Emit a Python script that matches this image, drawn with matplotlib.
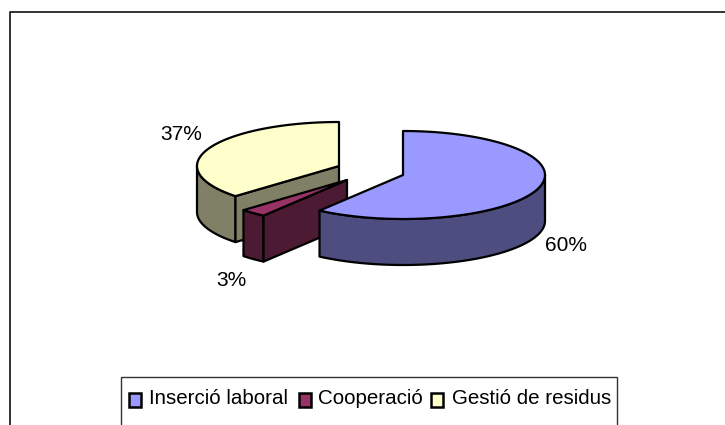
import numpy as np
import matplotlib
matplotlib.use('Agg')
import matplotlib.pyplot as plt
from matplotlib.patches import Polygon, Rectangle
from matplotlib.colors import to_rgb

categories = ['Inserció laboral', 'Cooperació', 'Gestió de residus']
values = [60, 3, 37]
pct_labels = ['60%', '3%', '37%']
colors = ['#9999FF', '#993366', '#FFFFCC']

# apex of each exploded slice, in pixels
apex = [(403, 175), (347, 180), (339, 166)]
label_pos = [(566, 245), (231, 280), (181, 135)]
legend_square_x = [129, 299, 431]
legend_text_x = [149, 318, 452]
RX, RY, DEPTH = 142, 44, 46
LW = 1.6

plt.rcParams['font.family'] = ['Liberation Sans']

fig = plt.figure(figsize=(7.25, 4.25), dpi=100)
ax = fig.add_axes([0, 0, 1, 1])
ax.set_xlim(0, 725)
ax.set_ylim(425, 0)
ax.axis('off')

# chart border, only left and top are inside the picture
ax.plot([10, 10, 725], [425, 12, 12], color='#222222', lw=1.3, zorder=1)


def rim(cx, cy, a0, a1):
    t = np.radians(np.linspace(a0, a1, 120))
    return cx + RX * np.sin(t), cy - RY * np.cos(t)


def draw_slice(cx, cy, a0, a1, color, z):
    side = tuple(c * 0.5 for c in to_rgb(color))
    kw = dict(facecolor=side, edgecolor='black', lw=LW, joinstyle='round', zorder=z)
    # outer wall, only the part facing the viewer
    s0, s1 = max(a0, 90), min(a1, 270)
    if s1 > s0:
        x, y = rim(cx, cy, s0, s1)
        pts = np.r_[np.c_[x, y], np.c_[x[::-1], y[::-1] + DEPTH]]
        ax.add_patch(Polygon(pts, **kw))
    # the cut at the start angle faces the viewer on the left half
    if 180 < a0 < 360:
        x, y = rim(cx, cy, a0, a0)
        pts = [(cx, cy), (x[0], y[0]), (x[0], y[0] + DEPTH), (cx, cy + DEPTH)]
        ax.add_patch(Polygon(pts, **kw))
    # top
    x, y = rim(cx, cy, a0, a1)
    pts = np.r_[[[cx, cy]], np.c_[x, y]]
    ax.add_patch(Polygon(pts, facecolor=color, edgecolor='black', lw=LW, joinstyle='round', zorder=z + 0.5))


fractions = np.array(values) / sum(values) * 360
starts = np.r_[0, np.cumsum(fractions)[:-1]]
# back to front: yellow, red, blue
for i, z in zip([2, 1, 0], [2, 3, 4]):
    draw_slice(apex[i][0], apex[i][1], starts[i], starts[i] + fractions[i], colors[i], z)

for lab, (x, y) in zip(pct_labels, label_pos):
    ax.text(x, y, lab, fontsize=15, ha='center', va='center', color='black', zorder=6)

# legend
ax.add_patch(Rectangle((121, 377), 496, 60, facecolor='white', edgecolor='#333333', lw=1, zorder=5))
for name, col, sx, tx in zip(categories, colors, legend_square_x, legend_text_x):
    ax.add_patch(Rectangle((sx, 393), 12, 14, facecolor=col, edgecolor='black', lw=1.8, zorder=6))
    ax.text(tx, 398.5, name, fontsize=14.8, ha='left', va='center', color='black', zorder=6)

fig.savefig('out.png', dpi=100)
